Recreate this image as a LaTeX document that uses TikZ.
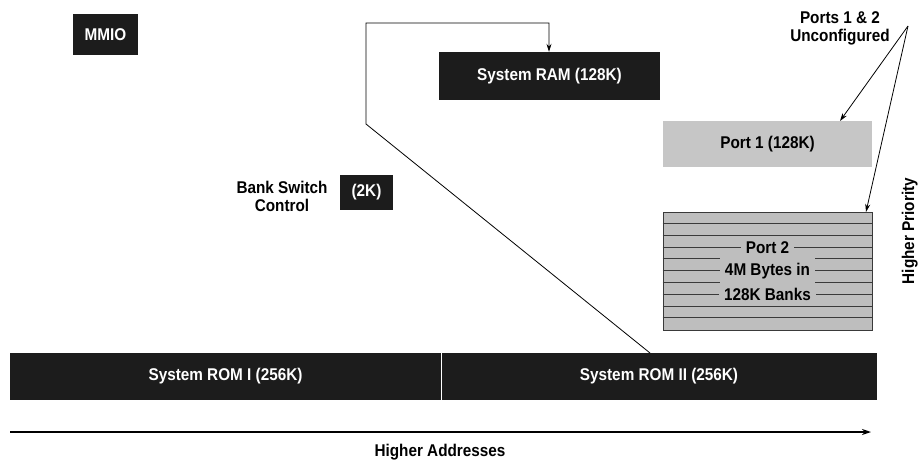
\documentclass[tikz,border=0pt]{standalone}
\usepackage{fontspec}
\setmainfont{Liberation Sans}[FakeStretch=0.9]
\usetikzlibrary{arrows.meta}
\definecolor{blk}{HTML}{1C1C1C}
\definecolor{portone}{HTML}{C6C6C6}
\definecolor{porttwo}{HTML}{BEBEBE}
\definecolor{stripe}{HTML}{3A3A3A}
\tikzset{
  lbl/.style={font=\fontsize{17}{18}\selectfont\bfseries, align=center, inner sep=0pt},
  darkbox/.style={fill=blk, draw=none},
  whitetxt/.style={lbl, text=white},
  conn/.style={draw=black, line width=0.8pt},
  tip/.style={-{Stealth[length=8pt,width=5pt]}},
}
\begin{document}
\begin{tikzpicture}[x=1pt,y=-1pt]
\useasboundingbox (0,0) rectangle (919,464);

% memory blocks
\node[darkbox, minimum width=65pt, minimum height=41pt] (mmio) at (105.5,34.5) {};
\node[whitetxt] at (mmio) {MMIO};

\node[darkbox, minimum width=221pt, minimum height=48pt] (ram) at (549.5,76) {};
\node[whitetxt] at (ram) {System RAM (128K)};

\node[darkbox, minimum width=53pt, minimum height=35pt] (bank) at (366.5,192.5) {};
\node[whitetxt] at (bank) {(2K)};
\node[lbl] (banklbl) at (282,196) {Bank Switch\\Control};

\node[fill=portone, minimum width=209pt, minimum height=46pt] (port1) at (767.5,144) {};
\node[lbl] at (port1) {Port 1 (128K)};

% Port 2: striped bank block
\node[fill=porttwo, draw=stripe, line width=0.6pt, minimum width=209pt, minimum height=118pt] (port2) at (767.5,271) {};
\foreach \k in {1,...,9} {
  \draw[stripe, line width=1pt] ([yshift=-\k*11.8pt]port2.north west) -- ([yshift=-\k*11.8pt]port2.north east);
}
\node[lbl, fill=porttwo, inner xsep=5pt, inner ysep=5pt] (p2a) at (767.5,248) {Port 2};
\node[lbl, fill=porttwo, inner xsep=5pt, inner ysep=5pt] (p2b) at (767.5,271) {4M Bytes in};
\node[lbl, fill=porttwo, inner xsep=5pt, inner ysep=5pt] (p2c) at (767.5,294) {128K Banks};

% system ROM bar
\node[darkbox, minimum width=431pt, minimum height=47pt] (rom1) at (225.5,376.5) {};
\node[darkbox, minimum width=436pt, minimum height=47pt] (rom2) at (659,376.5) {};
\draw[white, line width=0.9pt] (rom1.north east) -- (rom1.south east);
\node[whitetxt] at (rom1) {System ROM I (256K)};
\node[whitetxt] at (rom2) {System ROM II (256K)};

% bank switching path from ROM II to RAM
\coordinate (romtap) at (650,353);
\coordinate (bend1) at (366,124);
\coordinate (bend2) at (366,23);
\coordinate (bend3) at (549,23);
\draw[conn, tip] (romtap) -- (bend1) -- (bend2) -- (bend3) -- (bend3 |- ram.north);

% unconfigured ports callout
\node[lbl] (unconf) at (840,28) {Ports 1 \& 2\\Unconfigured};
\coordinate (fan) at (908,26);
\coordinate (p1tip) at (840,121);
\coordinate (p2tip) at (866,212);
\draw[conn, tip] (fan) -- (p1tip);
\draw[conn, tip] (fan) -- (p2tip);

% address axis
\coordinate (axl) at (10,432);
\coordinate (axr) at (871,432);
\draw[line width=1.6pt, -{Stealth[length=9pt,width=6pt]}] (axl) -- (axr);
\node[lbl] (addr) at (440,452) {Higher Addresses};

% priority label along the right edge
\node[lbl, rotate=90, anchor=south] (prio) at (918,231) {Higher Priority};
\end{tikzpicture}
\end{document}
